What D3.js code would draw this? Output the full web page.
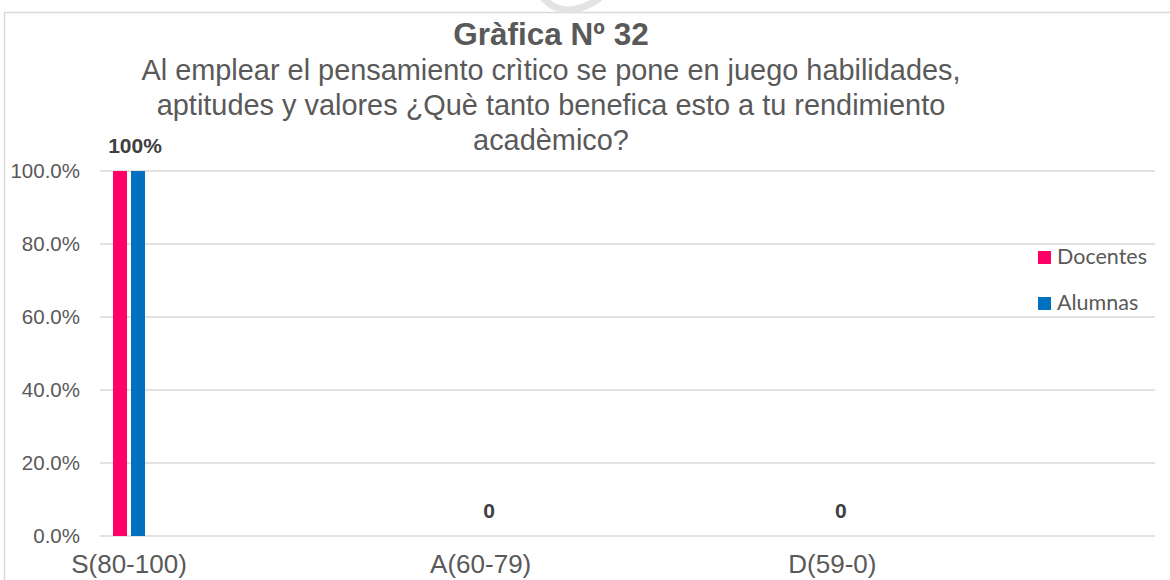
<!DOCTYPE html>
<html>
<head>
<meta charset="utf-8">
<script src="https://cdn.jsdelivr.net/npm/d3@7"></script>
<style>
  html, body { margin: 0; padding: 0; background: #fff; }
  svg { display: block; }
</style>
</head>
<body>
<svg id="chart" width="1170" height="580"></svg>
<script>
// ---- data ----
const categories = ["S(80-100)", "A(60-79)", "D(59-0)"];
const seriesNames = ["Docentes", "Alumnas"];
const docentes = [1.0, 0, 0];
const alumnas = [1.0, 0, 0];
const dataLabels = ["100%", "0", "0"];
const yTicks = [0, 0.2, 0.4, 0.6, 0.8, 1.0];
const titleText = "Gràfica Nº 32";
const subtitleLines = [
  "Al emplear el pensamiento crìtico se pone en juego habilidades,",
  "aptitudes y valores ¿Què tanto benefica esto a tu rendimiento",
  "acadèmico?"
];
const colors = { "Docentes": "#FF0066", "Alumnas": "#0070C0" };

const svg = d3.select("#chart");
const W = 1170, H = 580;
const plot = { left: 100, right: 1155, top: 171, bottom: 536 };

// frame
svg.append("rect")
  .attr("x", 4.5).attr("y", 12.5)
  .attr("width", W + 20).attr("height", H + 20)
  .attr("fill", "none").attr("stroke", "#d9d9d9").attr("stroke-width", 1.5);

// watermark fragment
svg.append("path")
  .attr("d", "M543,-2 Q565,22 600,-2")
  .attr("fill", "none").attr("stroke", "#e3e3e3").attr("stroke-width", 7);

// scales
const y = d3.scaleLinear().domain([0, 1]).range([plot.bottom, plot.top]);
const xBand = d3.scaleBand().domain(categories).range([plot.left, plot.right]);
const groupOffset = 29;
const inner = d3.scaleBand().domain(seriesNames).range([-16, 16]).paddingInner(0.222);

// gridlines
svg.append("g").selectAll("line").data(yTicks).join("line")
  .attr("x1", plot.left).attr("x2", plot.right)
  .attr("y1", d => y(d)).attr("y2", d => y(d))
  .attr("stroke", "#d9d9d9").attr("stroke-width", 1.5);

// y axis labels
const yAxis = d3.axisLeft(y).tickValues(yTicks).tickFormat(d3.format(".1%")).tickSize(0).tickPadding(0);
const yg = svg.append("g").attr("transform", `translate(80,0)`).call(yAxis);
yg.select(".domain").remove();
yg.selectAll("text")
  .attr("font-family", "'Liberation Sans', Arial, sans-serif")
  .attr("font-size", 20.5).attr("fill", "#595959");

// x axis labels
const xAxis = d3.axisBottom(xBand).tickSize(0).tickPadding(0);
const xg = svg.append("g").attr("transform", `translate(${groupOffset - xBand.bandwidth() / 2},0)`).call(xAxis);
xg.select(".domain").remove();
xg.selectAll("text")
  .attr("y", 573).attr("dy", null)
  .attr("font-family", "'Liberation Sans', Arial, sans-serif")
  .attr("font-size", 26).attr("fill", "#595959");

// bars
const rows = categories.map((c, i) => ({ cat: c, values: [
  { name: "Docentes", v: docentes[i] }, { name: "Alumnas", v: alumnas[i] }
]}));
const groups = svg.append("g").selectAll("g").data(rows).join("g")
  .attr("transform", d => `translate(${xBand(d.cat) + groupOffset},0)`);
groups.selectAll("rect").data(d => d.values).join("rect")
  .attr("x", d => inner(d.name))
  .attr("width", inner.bandwidth())
  .attr("y", d => y(d.v))
  .attr("height", d => y(0) - y(d.v))
  .attr("fill", d => colors[d.name]);

// data labels
svg.append("g").selectAll("text").data(categories).join("text")
  .attr("x", (d, i) => xBand(d) + groupOffset + (i === 0 ? 6 : 8.5))
  .attr("y", (d, i) => y(Math.max(docentes[i], alumnas[i])) - 18)
  .attr("text-anchor", "middle")
  .attr("font-family", "'Liberation Sans', Arial, sans-serif")
  .attr("font-weight", "bold").attr("font-size", 21).attr("fill", "#404040")
  .text((d, i) => dataLabels[i]);

// title
svg.append("text")
  .attr("x", 551).attr("y", 45).attr("text-anchor", "middle")
  .attr("font-family", "'Liberation Sans', Arial, sans-serif")
  .attr("font-weight", "bold").attr("font-size", 31.5).attr("fill", "#595959")
  .text(titleText);
svg.append("g").selectAll("text").data(subtitleLines).join("text")
  .attr("x", 551).attr("y", (d, i) => 80 + i * 35).attr("text-anchor", "middle")
  .attr("font-family", "'Liberation Sans', Arial, sans-serif")
  .attr("font-size", 28.9).attr("fill", "#595959")
  .text(d => d);

// legend
const lg = svg.append("g").selectAll("g").data(seriesNames).join("g")
  .attr("transform", (d, i) => `translate(1038,${251 + i * 46})`);
lg.append("rect").attr("width", 13).attr("height", 13).attr("fill", d => colors[d]);
lg.append("text").attr("x", 19).attr("y", 13)
  .attr("font-family", "Lato, 'Open Sans', sans-serif")
  .attr("font-size", 21.5).attr("fill", "#595959")
  .text(d => d);
</script>
</body>
</html>
